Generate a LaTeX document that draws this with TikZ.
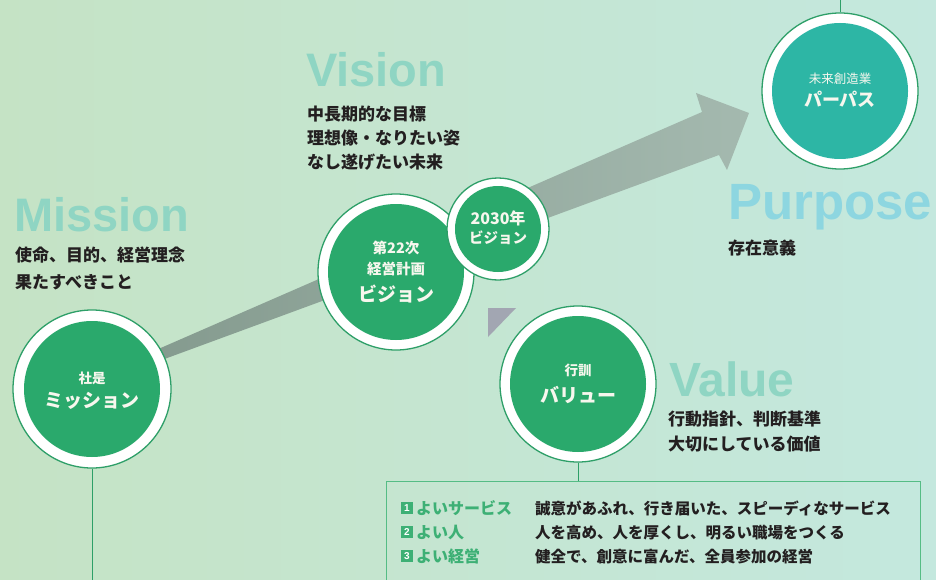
\documentclass[tikz,border=0pt]{standalone}
\usepackage{fontspec}
\setmainfont{Liberation Sans}
\newfontfamily\jp{Noto Sans CJK JP}
\definecolor{bgL}{HTML}{C5E3C5}
\definecolor{bgR}{HTML}{C4E8DE}
\definecolor{cgreen}{HTML}{2AA96C}
\definecolor{cteal}{HTML}{2DB6A5}
\definecolor{rim}{HTML}{2E9F68}
\definecolor{ttl}{HTML}{8FD5C3}
\definecolor{ttlp}{HTML}{8DD6E0}
\definecolor{arrL}{HTML}{849A8E}
\definecolor{arrR}{HTML}{A4B9AF}
\definecolor{tri}{HTML}{A2A6B2}
\definecolor{txt}{HTML}{231F20}
\definecolor{lab}{HTML}{3DB075}
\definecolor{boxc}{HTML}{55BC85}
\definecolor{ctext}{HTML}{F7F7EE}
\tikzset{
  outerc/.style={circle, fill=white, draw=rim, line width=1.3pt, inner sep=0pt, minimum size=#1},
  innerc/.style={circle, fill=cgreen, inner sep=0pt, minimum size=#1},
  conn/.style={draw=rim, line width=0.9pt},
  ttlnode/.style={anchor=base west, inner sep=0pt, text=ttl, font=\bfseries\fontsize{47}{47}\selectfont},
  body/.style={anchor=base west, inner sep=0pt, text=txt, font=\jp\bfseries\fontsize{17}{17}\selectfont},
  csmall/.style={inner sep=0pt, text=ctext, font=\jp\bfseries\fontsize{13.5}{13.5}\selectfont},
  cbig/.style={inner sep=0pt, text=ctext, font=\jp\bfseries\fontsize{19}{19}\selectfont},
  numbox/.style={fill=lab, text=white, minimum size=12.5pt, inner sep=0pt, font=\bfseries\fontsize{10}{10}\selectfont},
  labtext/.style={anchor=base west, inner sep=0pt, text=lab, font=\jp\bfseries\fontsize{16}{16}\selectfont},
  desc/.style={anchor=base west, inner sep=0pt, text=txt, font=\jp\bfseries\fontsize{15.5}{15.5}\selectfont}
}
\begin{document}
\begin{tikzpicture}[x=1pt,y=-1pt]
\shade[left color=bgL, right color=bgR] (0,0) rectangle (936,580);
\useasboundingbox (0,0) rectangle (936,580);

% big arrow
\coordinate (a1) at (140,357);
\coordinate (a2) at (702,112);
\coordinate (a3) at (696,93);
\coordinate (a4) at (749,113);
\coordinate (a5) at (727,170);
\coordinate (a6) at (719,155);
\coordinate (a7) at (140,368);
\shade[left color=arrL, right color=arrR] (a1)--(a2)--(a3)--(a4)--(a5)--(a6)--(a7)--cycle;

% small gray triangle
\coordinate (t1) at (488,308);
\coordinate (t2) at (516,308);
\coordinate (t3) at (488,337);
\fill[tri] (t1)--(t2)--(t3)--cycle;

% value box
\node[draw=boxc, line width=0.9pt, anchor=north west, minimum width=534pt, minimum height=102pt, inner sep=0pt] (box) at (386,481) {};

% circles
\node[outerc=158pt] (mission) at (92,389) {};
\node[innerc=136pt] (missionIn) at (mission) {};
\node[outerc=156pt] (vision) at (396,272) {};
\node[innerc=136pt] (visionIn) at (vision) {};
\node[outerc=102pt] (v2030) at (498,229) {};
\node[innerc=86pt] (v2030In) at (v2030) {};
\node[outerc=156pt] (value) at (578,384) {};
\node[innerc=136pt] (valueIn) at (value) {};
\node[outerc=156pt] (purpose) at (840,91) {};
\node[innerc=136pt, fill=cteal] (purposeIn) at (purpose) {};

% connector lines
\coordinate (mEnd) at (92,585);
\coordinate (pEnd) at (840,-5);
\draw[conn] (mission.south) -- (mEnd);
\draw[conn] (purpose.north) -- (pEnd);
\draw[conn] (value.south) -- (box.north -| value.south);

% circle texts
\node[csmall] (m1) at (92,378) {社是};
\node[cbig] (m2) at (92,401) {ミッション};
\node[csmall, font=\jp\bfseries\fontsize{14.5}{14.5}\selectfont] (v1) at (396,248) {第22次};
\node[csmall, font=\jp\bfseries\fontsize{14.5}{14.5}\selectfont] (v2) at (396,269) {経営計画};
\node[cbig] (v3) at (396,294) {ビジョン};
\node[csmall, font=\jp\bfseries\fontsize{16}{16}\selectfont] (y1) at (498,218) {2030年};
\node[csmall, font=\jp\bfseries\fontsize{14.5}{14.5}\selectfont] (y2) at (498,238) {ビジョン};
\node[csmall] (va1) at (578,370) {行訓};
\node[cbig] (va2) at (578,395) {バリュー};
\node[csmall, font=\jp\fontsize{12.5}{12.5}\selectfont] (p1) at (840,79) {未来創造業};
\node[cbig, font=\jp\bfseries\fontsize{18}{18}\selectfont] (p2) at (840,99) {パーパス};

% titles
\node[ttlnode] (tMission) at (14,231) {Mission};
\node[ttlnode] (tVision) at (306,87) {Vision};
\node[ttlnode, text=ttlp, font=\bfseries\fontsize{51}{51}\selectfont] (tPurpose) at (728,219) {Purpose};
\node[ttlnode, font=\bfseries\fontsize{48}{48}\selectfont] (tValue) at (669,396) {Value};

% body texts
\node[body] (mb1) at (15,261) {使命、目的、経営理念};
\node[body] (mb2) at (15,288) {果たすべきこと};
\node[body] (vb1) at (307,121) {中長期的な目標};
\node[body] (vb2) at (307,145) {理想像・なりたい姿};
\node[body] (vb3) at (307,169) {なし遂げたい未来};
\node[body] (pb1) at (728,254) {存在意義};
\node[body] (ab1) at (668,425) {行動指針、判断基準};
\node[body] (ab2) at (668,450) {大切にしている価値};

% value box rows
\node[numbox] (n1) at (407,508) {1};
\node[labtext] (l1) at (416,514) {よいサービス};
\node[desc] (d1) at (535,514) {誠意があふれ、行き届いた、スピーディなサービス};
\node[numbox] (n2) at (407,532) {2};
\node[labtext] (l2) at (416,538) {よい人};
\node[desc] (d2) at (535,538) {人を高め、人を厚くし、明るい職場をつくる};
\node[numbox] (n3) at (407,556) {3};
\node[labtext] (l3) at (416,562) {よい経営};
\node[desc] (d3) at (535,562) {健全で、創意に富んだ、全員参加の経営};
\end{tikzpicture}
\end{document}
